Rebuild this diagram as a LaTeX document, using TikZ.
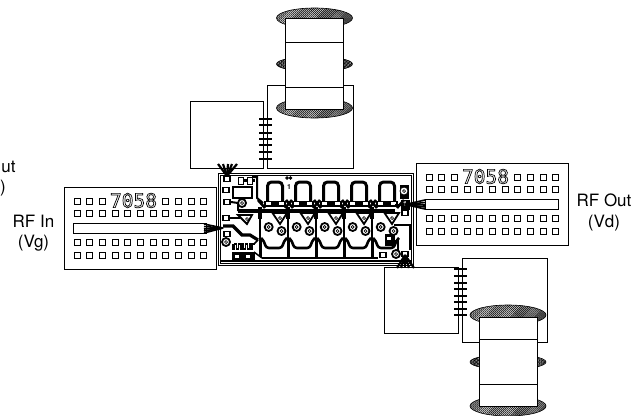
\documentclass[tikz,border=0pt]{standalone}
\usepackage{fontspec}
\setmainfont{TeX Gyre Heros}
\newfontfamily\partfont{DejaVu Sans Mono}
\usetikzlibrary{shapes.geometric,patterns.meta}
\newcommand{\outlined}[1]{\special{pdf:code 1 Tr 0.7 w}#1\special{pdf:code 0 Tr}}
\tikzset{
	plate/.style={draw,line width=0.9pt,fill=white},
	capcap/.style={draw,ellipse,inner sep=0,outer sep=0,minimum width=76pt,minimum height=20pt,line width=0.6pt,pattern={Lines[angle=45,distance=1.4pt,line width=0.8pt]}},
	capmid/.style={capcap,minimum height=15pt,pattern={Lines[angle=45,distance=1pt,line width=0.8pt]}},
	holepad/.style={draw,rectangle,fill=white,inner sep=0,outer sep=0,minimum size=6pt,line width=0.8pt},
	bondwire/.style={line width=2.3pt},
	finewire/.style={line width=1.6pt},
	trace/.style={line width=2.6pt,rounded corners=3pt},
	thintrace/.style={line width=1.3pt},
	via/.style={draw,circle,fill=white,inner sep=0,outer sep=0,minimum size=8pt,line width=1.8pt},
	viahole/.style={draw,circle,fill=white,inner sep=0,outer sep=0,minimum size=3pt,line width=0.7pt},
	chippad/.style={draw,rectangle,fill=white,inner sep=0,outer sep=0,minimum width=6pt,minimum height=5pt,line width=1.6pt},
	label/.style={inner sep=0,outer sep=0,font=\fontsize{17}{17}\selectfont}
}
\begin{document}
\begin{tikzpicture}[x=1pt,y=-1pt]
	\useasboundingbox (0,0) rectangle (644,415);
	\draw[plate] (267,85) rectangle (353,168);
	\node[capcap] (topcapa) at (314.5,18) {};
	\node[capmid] (topcapb) at (314.5,64) {};
	\node[capcap] (topcapc) at (314.5,108) {};
	\draw[plate] (285,18) rectangle (343,109);
	\draw[line width=0.9pt] (285,42) -- (343,42);
	\draw[line width=0.9pt] (285,87) -- (343,87);
	\draw[plate] (190,101) rectangle (263,168);
	\foreach \y in {119,125,133,139,145,152,159} {
		\draw[bondwire] (259,\y) -- (272,\y);
	}
	\draw[plate] (462,258) rectangle (547,342);
	\node[capcap] (botcapa) at (508,315) {};
	\node[capmid] (botcapb) at (508,362) {};
	\node[capcap] (botcapc) at (508,406) {};
	\draw[plate] (479,317) rectangle (537,406);
	\draw[line width=0.9pt] (479,339) -- (537,339);
	\draw[line width=0.9pt] (479,384) -- (537,384);
	\draw[plate] (384,267) rectangle (458,333);
	\foreach \y in {269,276,283,289,296,302,309,315} {
		\draw[bondwire] (454,\y) -- (467,\y);
	}
	\foreach \dx/\dy/\nm in {0/0/in,352/-24/out} {
		\begin{scope}[shift={(\dx,\dy)}]
			\draw[plate] (64,187) rectangle (216,269);
			\draw[plate] (73,223) rectangle (206,233);
			\foreach \i in {0,1,2,7,8,9,10} {
				\node[holepad] (pad\nm a\i) at (77+12.67*\i,201) {};
			}
			\foreach \i in {0,...,10} {
				\node[holepad] (pad\nm b\i) at (77+12.67*\i,213) {};
				\node[holepad] (pad\nm c\i) at (77+12.67*\i,242) {};
				\node[holepad] (pad\nm d\i) at (77+12.67*\i,255) {};
			}
			\node[inner sep=0,font=\partfont\fontsize{19.5}{19.5}\selectfont] (part\nm) at (133.5,200.5) {\outlined{7058}};
		\end{scope}
	}
	\draw[plate,line width=0.9pt] (218,173) rectangle (413,265);
	\draw[line width=0.9pt] (220,175) rectangle (411,263);
	\draw[line width=2pt] (220,261) -- (411,261);
	\draw[line width=3.5pt] (238,211) -- (395,211);
	\draw[line width=2pt] (262,257.5) -- (378,257.5);
	\foreach \i in {0,...,4} {
		\begin{scope}[shift={(28*\i,0)}]
			\draw[trace,line width=3pt,rounded corners=4pt] (267.5,202) -- (267.5,182) -- (282.5,182) -- (282.5,202);
			\draw[line width=1.8pt,fill=white] (265,201.5) rectangle (285,206);
			\draw[fill=black] (271.5,201.5) rectangle (278.5,206);
			\draw[line width=2.6pt] (258,200) -- (265,208);
			\draw[line width=2.6pt] (292,200) -- (285,208);
			\draw[line width=1.7pt] (260,207) -- (260,257);
			\draw[line width=3.5pt] (260,207) -- (260,219);
			\draw[line width=3pt] (260,240) -- (260,257);
			\draw[trace] (261,238) -- (264,241) -- (266,248) -- (282,248) -- (284,241) -- (287,238);
			\draw[plate,line width=1.8pt] (272.5,213) -- (287,213) -- (280,224) -- cycle;
			\node[via] (viaa\i) at (268.7,227) {};
			\node[viahole] (holea\i) at (268.7,227) {};
			\node[via] (viab\i) at (281.5,231) {};
			\node[viahole] (holeb\i) at (281.5,231) {};
			\node[viahole] (holec\i) at (280,218) {};
		\end{scope}
	}
	\node[inner sep=0,font=\bfseries\fontsize{7}{7}\selectfont] (pinone) at (289,187) {1};
	\node[draw,circle,fill=black,inner sep=0,minimum size=3pt] (dota) at (287,178) {};
	\node[draw,circle,fill=black,inner sep=0,minimum size=3pt] (dotb) at (290.5,178) {};
	\draw[thintrace,line width=2pt] (252,177) -- (257,177) -- (257,198) -- (263,203);
	\draw[line width=3pt] (238,180) -- (255,180);
	\draw[line width=1pt,fill=white] (238,177) rectangle (243,184);
	\draw[line width=1pt,fill=white] (247,177) rectangle (252,184);
	\draw[plate,line width=1.8pt] (233,187) rectangle (252,198);
	\draw[thintrace,line width=2pt] (231,202) -- (238,203) -- (238,211);
	\draw[thintrace,line width=2pt] (230,218) -- (240,218);
	\draw[line width=3.2pt] (223,226) -- (233,226) -- (242,235) -- (250,235) -- (258,240);
	\draw[plate,line width=1.8pt] (238,215) -- (252,215) -- (247,224) -- cycle;
	\node[viahole] (holed) at (247,219) {};
	\node[via] (viac) at (242,203) {};
	\node[viahole] (holee) at (242,203) {};
	\node[chippad] (pinb) at (227,179) {};
	\node[chippad] (pinc) at (226,190) {};
	\node[chippad] (pind) at (227,202) {};
	\node[chippad] (pine) at (226,218) {};
	\node[chippad] (pinf) at (227,234) {};
	\node[via] (viad) at (226,242) {};
	\node[viahole] (holef) at (226,242) {};
	\draw[thintrace] (233,244) foreach \m in {0,...,5} { -- ++(0,5) -- ++(1.8,0) -- ++(0,-5) -- ++(1.8,0)};
	\draw[line width=1.5pt] (254,244) -- (258,240);
	\draw[fill=black] (232,252) rectangle (254,260);
	\node[holepad,minimum width=5pt,minimum height=4pt] (pinh) at (237,256) {};
	\node[holepad,minimum width=5pt,minimum height=4pt] (pini) at (248,256) {};
	\draw[line width=1.5pt] (254,252) -- (262,258);
	\draw[fill=black] (400,185) rectangle (408,198);
	\node[via,line width=0.8pt] (viae) at (404,191) {};
	\node[viahole] (holeg) at (404,191) {};
	\draw[fill=black] (401,200) rectangle (409,209);
	\node[inner sep=0,text=white,font=\bfseries\fontsize{7}{7}\selectfont] (pinout) at (405,204.5) {1};
	\node[chippad] (pinj) at (405,213) {};
	\draw[line width=1.5pt] (395,205) -- (401,205);
	\draw[line width=1.6pt] (394,225) -- (410,225) -- (410,250);
	\draw[line width=2.4pt] (394,241) -- (398,241) -- (398,250);
	\draw[fill=black] (385,234) rectangle (394,245);
	\node[holepad,minimum width=5pt,minimum height=4pt] (pink) at (389,238) {};
	\node[via] (viaf) at (396,254) {};
	\node[viahole] (holeh) at (396,254) {};
	\node[chippad] (pinl) at (405,254) {};
	\node[chippad] (pinm) at (383,255) {};
	\foreach \x in {218,223,228,232,237} {
		\draw[line width=2.2pt] (227,176) -- (\x,164);
	}
	\foreach \y in {224,226.5,229,231,233} {
		\draw[finewire] (204,\y) -- (223,228);
	}
	\foreach \y in {200,202.5,205,207,209} {
		\draw[finewire] (425,\y) -- (405,204.5);
	}
	\foreach \x in {397,401,405,409,414} {
		\draw[line width=2.2pt] (405,255) -- (\x,268);
	}
	\node[label,anchor=east] (cutword) at (15.5,167) {ut};
	\node[label,anchor=west] (cutbracket) at (0,188) {)};
	\node[label] (rfin) at (33.5,221) {RF In};
	\node[label] (vg) at (33.5,243) {(Vg)};
	\node[label] (rfout) at (604,200) {RF Out};
	\node[label] (vd) at (604,223) {(Vd)};
\end{tikzpicture}
\end{document}
